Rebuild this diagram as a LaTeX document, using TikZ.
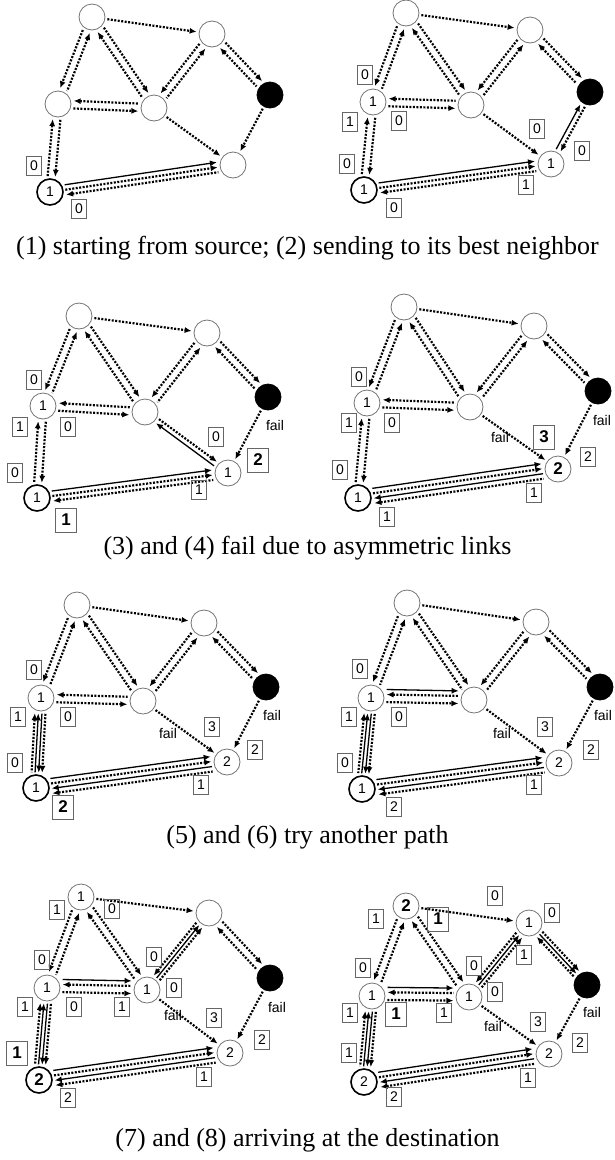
\documentclass[tikz,border=0pt]{standalone}
\usepackage{fontspec}
\setmainfont{Liberation Serif}
\setsansfont{Liberation Sans}
\usetikzlibrary{calc,arrows.meta}

\newcommand{\rg}{15.5pt}
\newcommand{\lk}[4][]{\draw[#1] ($(#2)!\rg!(#3)!#4!90:(#3)$) -- ($(#3)!\rg!(#2)!#4!-90:(#2)$);}

\tikzset{
 dotl/.style={line width=2.2pt, dash pattern=on 2pt off 1.5pt},
 solidl/.style={line width=1.3pt},
 fwd/.style={-{Latex[length=7pt,width=6pt]}},
 bwd/.style={{Latex[length=7pt,width=6pt]}-},
 nd/.style={circle, draw=black!55, line width=0.8pt, minimum size=26pt, inner sep=0pt, font=\sffamily\fontsize{14}{14}\selectfont},
 src/.style={nd, draw=black, line width=1.6pt},
 dst/.style={nd, fill=black, draw=black},
 bx/.style={draw=black!60, line width=0.7pt, minimum width=15pt, minimum height=19pt, inner sep=0pt, font=\sffamily\fontsize{14}{14}\selectfont},
 bb/.style={bx, minimum width=21pt, minimum height=24pt, font=\sffamily\bfseries\fontsize{17}{17}\selectfont},
 fl/.style={font=\sffamily\fontsize{14}{14}\selectfont, inner sep=0pt},
 captxt/.style={font=\fontsize{26}{26}\selectfont, inner sep=0pt}
}
\newcommand{\bigb}[1]{{\bfseries\fontsize{17}{17}\selectfont #1}}

\newcommand{\baselinks}[1]{%
 \lk[dotl,fwd]{#1A}{#1B}{0pt}
 \lk[dotl,fwd]{#1A}{#1C}{-3.8pt}
 \lk[dotl,bwd]{#1A}{#1C}{3.8pt}
 \lk[dotl,fwd]{#1A}{#1D}{3.8pt}
 \lk[dotl,bwd]{#1A}{#1D}{-3.8pt}
 \lk[dotl,fwd]{#1C}{#1D}{-3.8pt}
 \lk[dotl,bwd]{#1C}{#1D}{3.8pt}
 \lk[dotl,fwd]{#1B}{#1D}{-3.8pt}
 \lk[dotl,bwd]{#1B}{#1D}{3.8pt}
 \lk[dotl,fwd]{#1B}{#1E}{3.8pt}
 \lk[dotl,bwd]{#1B}{#1E}{-3.8pt}
}
\newcommand{\lkcsa}[1]{\lk[dotl,fwd]{#1C}{#1S}{3.8pt}\lk[dotl,bwd]{#1C}{#1S}{-3.8pt}}
\newcommand{\lkcsb}[1]{\lk[dotl,fwd]{#1C}{#1S}{5.3pt}\lk[solidl,fwd]{#1C}{#1S}{1.8pt}\lk[solidl,bwd]{#1C}{#1S}{-1.8pt}\lk[dotl,bwd]{#1C}{#1S}{-5.3pt}}
\newcommand{\lksfa}[1]{\lk[solidl,fwd]{#1S}{#1F}{5pt}\lk[dotl,fwd]{#1S}{#1F}{0pt}\lk[dotl,bwd]{#1S}{#1F}{-5pt}}
\newcommand{\lksfb}[1]{\lk[solidl,fwd]{#1S}{#1F}{7.5pt}\lk[dotl,fwd]{#1S}{#1F}{2.5pt}\lk[solidl,bwd]{#1S}{#1F}{-2.5pt}\lk[dotl,bwd]{#1S}{#1F}{-7.5pt}}

\begin{document}
\begin{tikzpicture}[x=1pt,y=-1pt]
\useasboundingbox (0,0) rectangle (615,1160);

% ---------------- Panel 1
\node[nd] (p1A) at (92,17) {};
\node[nd] (p1B) at (212,34) {};
\node[nd] (p1C) at (58,104) {};
\node[nd] (p1D) at (154,108) {};
\node[dst] (p1E) at (270,95) {};
\node[nd] (p1F) at (233,165) {};
\node[src] (p1S) at (50,192) {1};
\baselinks{p1}
\lk[dotl,fwd]{p1D}{p1F}{0pt}
\lk[dotl,fwd]{p1E}{p1F}{0pt}
\lkcsa{p1}
\lksfa{p1}
\node[bx] (p1b1) at (34,166) {0};
\node[bx] (p1b2) at (79,209) {0};

% ---------------- Panel 2
\node[nd] (p2A) at (406,13) {};
\node[nd] (p2B) at (530,30) {};
\node[nd] (p2C) at (373,102) {1};
\node[nd] (p2D) at (471,105) {};
\node[dst] (p2E) at (590,92) {};
\node[nd] (p2F) at (551,164) {1};
\node[src] (p2S) at (364,190) {1};
\baselinks{p2}
\lk[dotl,fwd]{p2D}{p2F}{0pt}
\lk[dotl,fwd]{p2E}{p2F}{2.5pt}
\lk[solidl,bwd]{p2E}{p2F}{-2.5pt}
\lkcsa{p2}
\lksfa{p2}
\node[bx] (p2b1) at (365,75) {0};
\node[bx] (p2b2) at (350,122) {1};
\node[bx] (p2b3) at (399,121) {0};
\node[bx] (p2b4) at (347,164) {0};
\node[bx] (p2b5) at (394,208) {0};
\node[bx] (p2b6) at (537,129) {0};
\node[bx] (p2b7) at (582,151) {0};
\node[bx] (p2b8) at (526,185) {1};

% ---------------- Panel 3
\node[nd] (p3A) at (79,316) {};
\node[nd] (p3B) at (207,333) {};
\node[nd] (p3C) at (43,406) {1};
\node[nd] (p3D) at (145,412) {};
\node[dst] (p3E) at (268,397) {};
\node[nd] (p3F) at (228,473) {1};
\node[src] (p3S) at (37,498) {1};
\baselinks{p3}
\lk[dotl,fwd]{p3D}{p3F}{2.5pt}
\lk[solidl,bwd]{p3D}{p3F}{-2.5pt}
\lk[dotl,fwd]{p3E}{p3F}{0pt}
\lkcsa{p3}
\lksfa{p3}
\node[bx] (p3b1) at (34,380) {0};
\node[bx] (p3b2) at (20,427) {1};
\node[bx] (p3b3) at (68,427) {0};
\node[bx] (p3b4) at (15,473) {0};
\node[bb] (p3b5) at (66,520) {1};
\node[bx] (p3b6) at (216,437) {0};
\node[bb] (p3b7) at (258,460) {2};
\node[bx] (p3b8) at (199,490) {1};
\node[fl] (p3f1) at (275,425) {fail};

% ---------------- Panel 4
\node[nd] (p4A) at (404,307) {};
\node[nd] (p4B) at (534,326) {};
\node[nd] (p4C) at (367,403) {1};
\node[nd] (p4D) at (470,407) {};
\node[dst] (p4E) at (598,391) {};
\node[nd] (p4F) at (558,469) {\bigb{2}};
\node[src] (p4S) at (358,498) {1};
\baselinks{p4}
\lk[dotl,fwd]{p4D}{p4F}{0pt}
\lk[dotl,fwd]{p4E}{p4F}{0pt}
\lkcsa{p4}
\lksfb{p4}
\node[bx] (p4b1) at (359,377) {0};
\node[bx] (p4b2) at (349,423) {1};
\node[bx] (p4b3) at (392,423) {0};
\node[bx] (p4b4) at (340,470) {0};
\node[bx] (p4b5) at (387,517) {1};
\node[bb] (p4b6) at (544,437) {3};
\node[bx] (p4b7) at (588,457) {2};
\node[bx] (p4b8) at (534,493) {1};
\node[fl] (p4f1) at (602,420) {fail};
\node[fl] (p4f2) at (500,437) {fail};

% ---------------- Panel 5
\node[nd] (p5A) at (77,605) {};
\node[nd] (p5B) at (204,623) {};
\node[nd] (p5C) at (41,698) {1};
\node[nd] (p5D) at (143,701) {};
\node[dst] (p5E) at (266,687) {};
\node[nd] (p5F) at (227,762) {2};
\node[src] (p5S) at (36,788) {1};
\baselinks{p5}
\lk[dotl,fwd]{p5D}{p5F}{0pt}
\lk[dotl,fwd]{p5E}{p5F}{0pt}
\lkcsb{p5}
\lksfb{p5}
\node[bx] (p5b1) at (34,670) {0};
\node[bx] (p5b2) at (18,717) {1};
\node[bx] (p5b3) at (68,717) {0};
\node[bx] (p5b4) at (15,763) {0};
\node[bb] (p5b5) at (63,807) {2};
\node[bx] (p5b6) at (212,727) {3};
\node[bx] (p5b7) at (255,750) {2};
\node[bx] (p5b8) at (201,785) {1};
\node[fl] (p5f1) at (272,715) {fail};
\node[fl] (p5f2) at (168,733) {fail};

% ---------------- Panel 6
\node[nd] (p6A) at (407,603) {};
\node[nd] (p6B) at (536,622) {};
\node[nd] (p6C) at (371,698) {1};
\node[nd] (p6D) at (474,700) {};
\node[dst] (p6E) at (600,687) {};
\node[nd] (p6F) at (559,763) {2};
\node[src] (p6S) at (362,789) {1};
\baselinks{p6}
\lk[solidl,fwd]{p6C}{p6D}{8.8pt}
\lk[dotl,fwd]{p6D}{p6F}{0pt}
\lk[dotl,fwd]{p6E}{p6F}{0pt}
\lkcsb{p6}
\lksfb{p6}
\node[bx] (p6b1) at (360,669) {0};
\node[bx] (p6b2) at (349,717) {1};
\node[bx] (p6b3) at (399,717) {0};
\node[bx] (p6b4) at (345,763) {0};
\node[bx] (p6b5) at (394,807) {2};
\node[bx] (p6b6) at (545,727) {3};
\node[bx] (p6b7) at (591,750) {2};
\node[bx] (p6b8) at (534,785) {1};
\node[fl] (p6f1) at (603,715) {fail};
\node[fl] (p6f2) at (502,733) {fail};

% ---------------- Panel 7
\node[nd] (p7A) at (81,897) {1};
\node[nd] (p7B) at (209,913) {};
\node[nd] (p7C) at (47,988) {1};
\node[nd] (p7D) at (147,990) {1};
\node[dst] (p7E) at (270,978) {};
\node[nd] (p7F) at (230,1053) {2};
\node[src] (p7S) at (39,1080) {\bigb{2}};
\baselinks{p7}
\lk[solidl,fwd]{p7C}{p7D}{8.8pt}
\lk[solidl,bwd]{p7B}{p7D}{0pt}
\lk[dotl,fwd]{p7D}{p7F}{0pt}
\lk[dotl,fwd]{p7E}{p7F}{0pt}
\lkcsb{p7}
\lksfb{p7}
\node[bx] (p7b1) at (57,910) {1};
\node[bx] (p7b2) at (112,909) {0};
\node[bx] (p7b3) at (42,960) {0};
\node[bx] (p7b4) at (154,957) {0};
\node[bx] (p7b5) at (174,988) {0};
\node[bx] (p7b6) at (25,1007) {1};
\node[bx] (p7b7) at (74,1007) {0};
\node[bx] (p7b8) at (122,1007) {1};
\node[bb] (p7b9) at (17,1053) {1};
\node[bx] (p7b10) at (68,1098) {2};
\node[bx] (p7b11) at (214,1018) {3};
\node[bx] (p7b12) at (262,1040) {2};
\node[bx] (p7b13) at (204,1077) {1};
\node[fl] (p7f1) at (277,1007) {fail};
\node[fl] (p7f2) at (173,1015) {fail};

% ---------------- Panel 8
\node[nd] (p8A) at (406,906) {\bigb{2}};
\node[nd] (p8B) at (529,923) {1};
\node[nd] (p8C) at (372,996) {1};
\node[nd] (p8D) at (469,997) {1};
\node[dst] (p8E) at (587,985) {};
\node[nd] (p8F) at (549,1054) {2};
\node[src] (p8S) at (364,1082) {2};
\baselinks{p8}
\lk[solidl,fwd]{p8C}{p8D}{8.8pt}
\lk[solidl,bwd]{p8B}{p8D}{0pt}
\lk[solidl,fwd]{p8B}{p8E}{0pt}
\lk[dotl,fwd]{p8D}{p8F}{0pt}
\lk[dotl,fwd]{p8E}{p8F}{0pt}
\lkcsb{p8}
\lksfb{p8}
\node[bx] (p8b1) at (376,919) {1};
\node[bb] (p8b2) at (438,919) {1};
\node[bx] (p8b3) at (495,896) {0};
\node[bx] (p8b4) at (552,913) {0};
\node[bx] (p8b5) at (524,955) {1};
\node[bx] (p8b6) at (363,968) {0};
\node[bx] (p8b7) at (474,966) {0};
\node[bx] (p8b8) at (495,992) {0};
\node[bx] (p8b9) at (350,1013) {1};
\node[bb] (p8b10) at (396,1014) {1};
\node[bx] (p8b11) at (444,1013) {1};
\node[bx] (p8b12) at (349,1053) {1};
\node[bx] (p8b13) at (394,1097) {2};
\node[bx] (p8b14) at (538,1022) {3};
\node[bx] (p8b15) at (580,1043) {2};
\node[bx] (p8b16) at (528,1078) {1};
\node[fl] (p8f1) at (592,1012) {fail};
\node[fl] (p8f2) at (493,1026) {fail};

% ---------------- Captions
\node[captxt] (cap1) at (307.5,248) {(1) starting from source; (2) sending to its best neighbor};
\node[captxt] (cap2) at (307.5,548) {(3) and (4) fail due to asymmetric links};
\node[captxt] (cap3) at (307.5,837) {(5) and (6) try another path};
\node[captxt] (cap4) at (307.5,1140) {(7) and (8) arriving at the destination};
\end{tikzpicture}
\end{document}
